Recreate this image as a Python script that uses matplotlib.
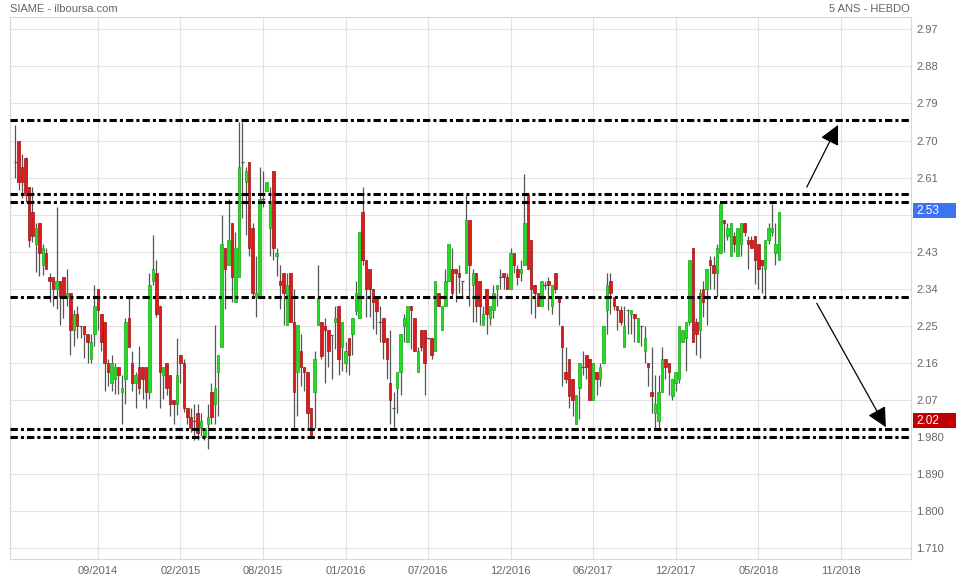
import matplotlib
matplotlib.use('Agg')
import matplotlib.pyplot as plt
import matplotlib.transforms as mtransforms
from matplotlib.patches import Rectangle
import numpy as np

plt.rcParams['font.family'] = ['Liberation Sans', 'DejaVu Sans']

# weekly candles, SIAME
opens = [2.647, 2.698, 2.637, 2.657, 2.588, 2.527, 2.450, 2.499, 2.398, 2.427,
         2.368, 2.368, 2.339, 2.359, 2.368, 2.320, 2.329, 2.240, 2.279, 2.250,
         2.250, 2.230, 2.169, 2.230, 2.339, 2.279, 2.259, 2.159, 2.111, 2.120,
         2.149, 2.090, 2.120, 2.268, 2.159, 2.111, 2.149, 2.149, 2.149, 2.090,
         2.359, 2.379, 2.299, 2.130, 2.159, 2.130, 2.069, 2.060, 2.179, 2.159,
         2.050, 2.029, 2.020, 2.039, 2.003, 1.980, 2.011, 2.090, 2.060, 2.139,
         2.199, 2.439, 2.398, 2.499, 2.307, 2.368, 2.647, 2.599, 2.647, 2.488,
         2.320, 2.320, 2.559, 2.578, 2.488, 2.627, 2.419, 2.359, 2.379, 2.251,
         2.379, 2.259, 2.139, 2.190, 2.149, 2.139, 2.050, 2.090, 2.251, 2.259,
         2.250, 2.240, 2.229, 2.259, 2.299, 2.199, 2.159, 2.220, 2.230, 2.287,
         2.268, 2.527, 2.409, 2.389, 2.339, 2.317, 2.259, 2.268, 2.220, 2.111,
         2.050, 2.100, 2.139, 2.250, 2.210, 2.298, 2.268, 2.139, 2.240, 2.240,
         2.220, 2.220, 2.190, 2.329, 2.240, 2.299, 2.359, 2.389, 2.389, 2.379,
         2.359, 2.379, 2.508, 2.350, 2.379, 2.359, 2.251, 2.339, 2.268, 2.289,
         2.339, 2.368, 2.379, 2.368, 2.339, 2.427, 2.389, 2.379, 2.398, 2.568,
         2.459, 2.350, 2.329, 2.299, 2.350, 2.359, 2.299, 2.379, 2.317, 2.250,
         2.139, 2.169, 2.120, 2.011, 2.100, 2.149, 2.179, 2.169, 2.069, 2.139,
         2.120, 2.159, 2.289, 2.359, 2.320, 2.299, 2.289, 2.199, 2.289, 2.279,
         2.279, 2.210, 2.250, 2.190, 2.159, 2.090, 2.039, 2.019, 2.090, 2.169,
         2.159, 2.080, 2.111, 2.120, 2.210, 2.220, 2.259, 2.439, 2.259, 2.240,
         2.340, 2.340, 2.409, 2.398, 2.379, 2.427, 2.507, 2.468, 2.419, 2.468,
         2.419, 2.450, 2.499, 2.458, 2.458, 2.468, 2.450, 2.409, 2.389, 2.459,
         2.478, 2.427, 2.409]
highs = [2.738, 2.698, 2.667, 2.659, 2.588, 2.588, 2.499, 2.499, 2.450, 2.439,
         2.379, 2.368, 2.538, 2.359, 2.368, 2.389, 2.329, 2.289, 2.299, 2.250,
         2.250, 2.230, 2.230, 2.350, 2.339, 2.279, 2.259, 2.169, 2.179, 2.159,
         2.149, 2.130, 2.270, 2.317, 2.190, 2.139, 2.202, 2.149, 2.149, 2.379,
         2.470, 2.409, 2.299, 2.149, 2.159, 2.130, 2.069, 2.221, 2.179, 2.169,
         2.050, 2.050, 2.061, 2.061, 2.039, 2.001, 2.060, 2.111, 2.251, 2.179,
         2.519, 2.439, 2.559, 2.499, 2.478, 2.746, 2.746, 2.637, 2.647, 2.499,
         2.419, 2.637, 2.627, 2.599, 2.588, 2.627, 2.439, 2.398, 2.379, 2.379,
         2.379, 2.339, 2.251, 2.230, 2.149, 2.139, 2.050, 2.190, 2.398, 2.259,
         2.268, 2.240, 2.229, 2.299, 2.299, 2.259, 2.210, 2.220, 2.268, 2.359,
         2.478, 2.588, 2.409, 2.389, 2.339, 2.317, 2.299, 2.268, 2.220, 2.240,
         2.090, 2.139, 2.230, 2.279, 2.298, 2.298, 2.268, 2.199, 2.240, 2.240,
         2.220, 2.220, 2.359, 2.329, 2.299, 2.389, 2.450, 2.439, 2.389, 2.398,
         2.359, 2.568, 2.508, 2.389, 2.379, 2.359, 2.299, 2.339, 2.299, 2.350,
         2.350, 2.389, 2.379, 2.379, 2.439, 2.427, 2.398, 2.409, 2.618, 2.568,
         2.459, 2.350, 2.329, 2.359, 2.359, 2.368, 2.350, 2.379, 2.317, 2.250,
         2.199, 2.169, 2.120, 2.082, 2.159, 2.190, 2.179, 2.169, 2.159, 2.139,
         2.159, 2.250, 2.379, 2.379, 2.320, 2.299, 2.298, 2.298, 2.289, 2.289,
         2.279, 2.268, 2.250, 2.250, 2.159, 2.199, 2.130, 2.130, 2.199, 2.169,
         2.159, 2.120, 2.139, 2.250, 2.240, 2.259, 2.409, 2.439, 2.268, 2.340,
         2.359, 2.389, 2.419, 2.419, 2.450, 2.547, 2.507, 2.499, 2.499, 2.478,
         2.488, 2.499, 2.499, 2.468, 2.468, 2.468, 2.450, 2.409, 2.459, 2.499,
         2.547, 2.499, 2.527]
lows = [2.608, 2.580, 2.561, 2.551, 2.442, 2.454, 2.381, 2.370, 2.373, 2.389,
        2.309, 2.299, 2.290, 2.251, 2.270, 2.299, 2.180, 2.202, 2.221, 2.221,
        2.171, 2.161, 2.161, 2.202, 2.240, 2.190, 2.092, 2.103, 2.092, 2.084,
        2.084, 2.012, 2.061, 2.199, 2.092, 2.051, 2.084, 2.072, 2.051, 2.072,
        2.350, 2.271, 2.051, 2.072, 2.082, 2.031, 2.012, 2.033, 2.111, 2.042,
        2.012, 1.993, 1.974, 1.974, 1.982, 1.974, 1.950, 2.011, 2.012, 2.031,
        2.199, 2.290, 2.398, 2.309, 2.307, 2.368, 2.511, 2.470, 2.419, 2.320,
        2.271, 2.320, 2.539, 2.578, 2.419, 2.409, 2.370, 2.290, 2.251, 2.251,
        2.259, 2.003, 2.031, 2.103, 2.092, 2.003, 1.982, 2.003, 2.251, 2.169,
        2.111, 2.149, 2.120, 2.194, 2.130, 2.141, 2.139, 2.130, 2.179, 2.277,
        2.268, 2.398, 2.271, 2.271, 2.242, 2.230, 2.210, 2.169, 2.120, 2.012,
        2.003, 2.039, 2.082, 2.210, 2.210, 2.194, 2.190, 2.139, 2.190, 2.082,
        2.218, 2.169, 2.190, 2.299, 2.240, 2.299, 2.359, 2.320, 2.309, 2.329,
        2.320, 2.379, 2.299, 2.260, 2.260, 2.251, 2.251, 2.230, 2.251, 2.268,
        2.299, 2.339, 2.339, 2.339, 2.339, 2.379, 2.350, 2.359, 2.398, 2.389,
        2.279, 2.270, 2.299, 2.299, 2.339, 2.289, 2.279, 2.329, 2.251, 2.103,
        2.111, 2.051, 2.031, 2.011, 2.023, 2.130, 2.120, 2.069, 2.069, 2.082,
        2.103, 2.159, 2.230, 2.279, 2.289, 2.240, 2.251, 2.199, 2.230, 2.230,
        2.210, 2.210, 2.202, 2.161, 2.103, 2.039, 2.003, 2.003, 2.090, 2.120,
        2.082, 2.069, 2.092, 2.111, 2.210, 2.141, 2.251, 2.210, 2.179, 2.171,
        2.271, 2.251, 2.340, 2.340, 2.320, 2.427, 2.429, 2.459, 2.419, 2.429,
        2.419, 2.419, 2.468, 2.389, 2.439, 2.352, 2.340, 2.329, 2.320, 2.450,
        2.468, 2.398, 2.409]
closes = [2.647, 2.599, 2.599, 2.569, 2.459, 2.468, 2.488, 2.427, 2.439, 2.389,
          2.359, 2.339, 2.359, 2.320, 2.320, 2.329, 2.240, 2.279, 2.250, 2.250,
          2.230, 2.210, 2.210, 2.299, 2.289, 2.210, 2.159, 2.139, 2.159, 2.149,
          2.130, 2.100, 2.259, 2.199, 2.111, 2.130, 2.100, 2.120, 2.090, 2.350,
          2.389, 2.279, 2.139, 2.149, 2.100, 2.060, 2.060, 2.130, 2.159, 2.050,
          2.029, 2.003, 2.020, 1.990, 2.019, 2.001, 2.029, 2.029, 2.100, 2.179,
          2.450, 2.389, 2.459, 2.368, 2.439, 2.637, 2.647, 2.627, 2.439, 2.329,
          2.329, 2.559, 2.559, 2.599, 2.547, 2.439, 2.427, 2.350, 2.329, 2.350,
          2.259, 2.090, 2.251, 2.149, 2.139, 2.039, 1.982, 2.169, 2.317, 2.177,
          2.240, 2.190, 2.229, 2.268, 2.169, 2.259, 2.190, 2.179, 2.268, 2.329,
          2.478, 2.409, 2.339, 2.339, 2.307, 2.287, 2.259, 2.210, 2.169, 2.069,
          2.050, 2.139, 2.230, 2.268, 2.298, 2.289, 2.190, 2.190, 2.199, 2.159,
          2.220, 2.179, 2.359, 2.299, 2.299, 2.359, 2.450, 2.329, 2.379, 2.368,
          2.359, 2.508, 2.398, 2.379, 2.299, 2.299, 2.279, 2.279, 2.299, 2.329,
          2.350, 2.368, 2.368, 2.339, 2.427, 2.398, 2.368, 2.389, 2.499, 2.389,
          2.339, 2.329, 2.299, 2.359, 2.350, 2.350, 2.350, 2.339, 2.307, 2.199,
          2.120, 2.080, 2.069, 2.082, 2.159, 2.149, 2.149, 2.069, 2.159, 2.120,
          2.149, 2.250, 2.350, 2.329, 2.299, 2.289, 2.259, 2.250, 2.289, 2.289,
          2.268, 2.268, 2.250, 2.220, 2.149, 2.080, 2.060, 2.090, 2.169, 2.149,
          2.139, 2.120, 2.139, 2.250, 2.240, 2.259, 2.409, 2.210, 2.230, 2.329,
          2.307, 2.389, 2.398, 2.379, 2.439, 2.547, 2.499, 2.488, 2.499, 2.450,
          2.488, 2.499, 2.478, 2.450, 2.439, 2.409, 2.389, 2.398, 2.459, 2.488,
          2.488, 2.450, 2.527]

date_ticks = [24, 48, 72, 96, 120, 144, 168, 192, 216, 240]
date_labels = ['09/2014', '02/2015', '08/2015', '01/2016', '07/2016',
               '12/2016', '06/2017', '12/2017', '05/2018', '11/2018']
price_ticks = [1.71 + 0.09 * k for k in range(15)]

levels = [2.75, 2.57, 2.55, 2.32, 2.00, 1.98]
last_price = 2.53
alert_price = 2.02
arrow_up = [(230.1, 2.587), (239.2, 2.738)]
arrow_down = [(233.0, 2.305), (253.1, 2.004)]

green = '#22dd22'
red = '#e01a1a'
wick = '#555555'
grey_txt = '#666666'
grid = '#e2e2e2'

o = np.array(opens)
h = np.array(highs)
l = np.array(lows)
c = np.array(closes)
x = np.arange(len(o))
up = c > o
down = c < o
flat = c == o

fig = plt.figure(figsize=(9.56, 5.8), dpi=100)
ax = fig.add_axes([10 / 956, 21 / 580, 901 / 956, 542 / 580])

ax.vlines(x, l, h, color=wick, lw=0.9, zorder=2)
ax.bar(x[up], (c - o)[up], bottom=o[up], width=0.72, color=green,
       edgecolor='#14a814', lw=0.5, zorder=3)
ax.bar(x[down], (o - c)[down], bottom=c[down], width=0.72, color=red,
       edgecolor='#a01010', lw=0.5, zorder=3)
ax.hlines(o[flat], x[flat] - 0.5, x[flat] + 0.5, color=wick, lw=0.9, zorder=3)

for v in levels:
    ax.axhline(v, color='black', lw=2.2, linestyle=(0, (2.4, 1, 1, 1)), zorder=4)

for a in (arrow_up, arrow_down):
    ax.annotate('', xy=a[1], xytext=a[0],
                arrowprops=dict(arrowstyle='-|>,head_length=1.0,head_width=0.5',
                                color='black', lw=0.9, shrinkA=0, shrinkB=0,
                                mutation_scale=12), zorder=5)

ax.set_xlim(-1.54, 260.4)
ax.set_ylim(1.684, 3.0)
ax.set_xticks(date_ticks)
ax.set_xticklabels(date_labels)
ax.set_yticks(price_ticks)
# tick labels that sit under the price boxes are hidden
ylabels = []
for v in price_ticks:
    if abs(v - last_price) < 0.03 or abs(v - alert_price) < 0.03:
        ylabels.append('')
    elif v < 2:
        ylabels.append(f'{v:.3f}')
    else:
        ylabels.append(f'{v:.2f}')
ax.set_yticklabels(ylabels)
ax.yaxis.tick_right()
ax.tick_params(axis='both', length=0, labelsize=8, labelcolor=grey_txt)
ax.tick_params(axis='x', pad=5)
ax.tick_params(axis='y', pad=4)
ax.grid(True, color=grid, lw=0.8, zorder=0)
ax.set_axisbelow(True)
for s in ax.spines.values():
    s.set_color('#d8d8d8')
    s.set_linewidth(0.8)

trans = mtransforms.blended_transform_factory(ax.transAxes, ax.transData)
for val, col in ((last_price, '#3d72f4'), (alert_price, '#c00000')):
    ax.add_patch(Rectangle((1.0022, val - 0.0184), 0.048, 0.0368, transform=trans,
                           facecolor=col, edgecolor='none', clip_on=False, zorder=6))
    ax.text(1.0055, val, f'{val:.2f}', transform=trans, color='white', fontsize=8.5,
            va='center', ha='left', zorder=7, clip_on=False)

fig.text(10 / 956, 1 - 9 / 580, 'SIAME - ilboursa.com', color=grey_txt,
         fontsize=8, va='center', ha='left')
fig.text(910 / 956, 1 - 9 / 580, '5 ANS - HEBDO', color=grey_txt,
         fontsize=8, va='center', ha='right')

fig.savefig('out.png', dpi=100, facecolor='white')
